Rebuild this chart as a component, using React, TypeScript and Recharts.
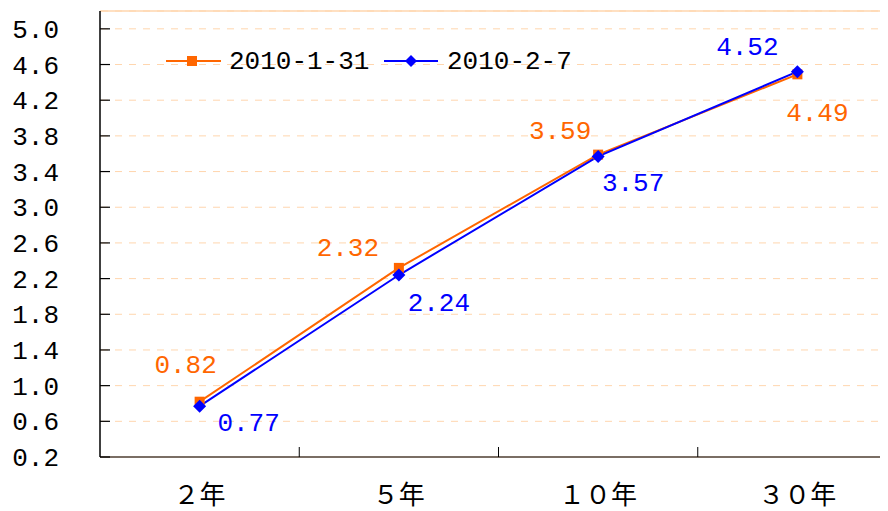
import React from 'react';
import { LineChart, Line, XAxis, YAxis, CartesianGrid, ReferenceLine } from 'recharts';

const categories = ['２年', '５年', '１０年', '３０年'];
const seriesNames = ['2010-1-31', '2010-2-7'];
const jan31 = [0.82, 2.32, 3.59, 4.49];
const feb7 = [0.77, 2.24, 3.57, 4.52];
const yTicks = [0.2, 0.6, 1.0, 1.4, 1.8, 2.2, 2.6, 3.0, 3.4, 3.8, 4.2, 4.6, 5.0];

// label placement (style): offsets of label centre from the point
const janLabelOffsets = [[-14, -36], [-51, -19], [-38, -23], [20, 40]];
const febLabelOffsets = [[49, 18], [40, 29], [35, 28], [-50, -24]];

const ORANGE = '#FF6600';
const BLUE = '#0000FF';
const GRID = '#FFD6AE';
const MONO = '"Liberation Mono", "DejaVu Sans Mono", monospace';
const CJK = '"Noto Sans CJK JP", "Noto Sans CJK SC", sans-serif';

const CHART_W = 900;
const CHART_H = 503;
const MARGIN = { top: 3, right: 11, bottom: 0, left: 0 };
const Y_W = 92;
const X_H = 54;
const PLOT_W = CHART_W - MARGIN.left - MARGIN.right - Y_W;
const HALF_BAND = PLOT_W / categories.length / 2;

const data = categories.map((c, i) => ({ cat: c, a: jan31[i], b: feb7[i] }));

const YTick = (props: any) => {
  const { x, y, payload } = props;
  return (
    <g>
      <line x1={x} x2={x + 10} y1={y} y2={y} stroke="#000" strokeWidth={1.2} />
      <text x={x - 41} y={y + 2} textAnchor="end" dominantBaseline="central" fontFamily={MONO} fontSize={26} fill="#000">
        {Number(payload.value).toFixed(1)}
      </text>
    </g>
  );
};

const XTick = (props: any) => {
  const { x, y, payload, index } = props;
  return (
    <g>
      {index > 0 && <line x1={x - HALF_BAND} x2={x - HALF_BAND} y1={y} y2={y - 10} stroke="#000" strokeWidth={1} />}
      <text x={x} y={y + 35} textAnchor="middle" dominantBaseline="central" fontFamily={CJK} fontSize={26} fill="#000">
        {payload.value}
      </text>
    </g>
  );
};

const SquareDot = (props: any) => {
  const { cx, cy } = props;
  if (cx == null || cy == null) return <g />;
  return <rect x={cx - 5} y={cy - 5} width={10} height={10} fill={ORANGE} />;
};

const DiamondDot = (props: any) => {
  const { cx, cy } = props;
  if (cx == null || cy == null) return <g />;
  const r = 6.5;
  return <polygon points={`${cx},${cy - r} ${cx + r},${cy} ${cx},${cy + r} ${cx - r},${cy}`} fill={BLUE} />;
};

const makeLabel = (offsets: number[][], color: string) => (props: any) => {
  const { x, y, value, index } = props;
  const [dx, dy] = offsets[index] || [0, 0];
  return (
    <text x={x + dx} y={y + dy} textAnchor="middle" dominantBaseline="central" fontFamily={MONO} fontSize={26} fill={color}>
      {Number(value).toFixed(2)}
    </text>
  );
};

const LegendBox = () => (
  <svg width={430} height={30} style={{ position: 'absolute', left: 152, top: 38 }}>
    <line x1={6} x2={61} y1={15} y2={15} stroke={ORANGE} strokeWidth={2} />
    <rect x={27} y={10} width={10} height={10} fill={ORANGE} />
    <text x={69} y={16} dominantBaseline="central" fontFamily={MONO} fontSize={26} fill="#000">{seriesNames[0]}</text>
    <line x1={224} x2={278} y1={15} y2={15} stroke={BLUE} strokeWidth={2} />
    <polygon points="251,9 257,15 251,21 245,15" fill={BLUE} />
    <text x={287} y={16} dominantBaseline="central" fontFamily={MONO} fontSize={26} fill="#000">{seriesNames[1]}</text>
  </svg>
);

export default function App() {
  return (
    <div style={{ width: 880, height: CHART_H, overflow: 'hidden', position: 'relative' }}>
      <LineChart width={CHART_W} height={CHART_H} data={data} margin={MARGIN}>
        <CartesianGrid vertical={false} stroke={GRID} strokeDasharray="7 7" strokeDashoffset={-1} />
        <ReferenceLine y={5.2} stroke={GRID} strokeWidth={1.5} ifOverflow="extendDomain" />
        <XAxis
          dataKey="cat"
          height={X_H}
          interval={0}
          padding={{ left: HALF_BAND, right: HALF_BAND }}
          tickLine={false}
          tickSize={0}
          tickMargin={0}
          axisLine={{ stroke: '#7A6E64', strokeWidth: 2 }}
          tick={<XTick />}
        />
        <YAxis
          width={Y_W}
          type="number"
          domain={[0.2, 5.2]}
          ticks={yTicks}
          interval={0}
          allowDataOverflow
          tickLine={false}
          tickSize={0}
          tickMargin={0}
          axisLine={{ stroke: '#000', strokeWidth: 1.5 }}
          tick={<YTick />}
        />
        <Line
          dataKey="a"
          name={seriesNames[0]}
          stroke={ORANGE}
          strokeWidth={2}
          dot={<SquareDot />}
          activeDot={false}
          label={makeLabel(janLabelOffsets, ORANGE)}
          isAnimationActive={false}
        />
        <Line
          dataKey="b"
          name={seriesNames[1]}
          stroke={BLUE}
          strokeWidth={2}
          dot={<DiamondDot />}
          activeDot={false}
          label={makeLabel(febLabelOffsets, BLUE)}
          isAnimationActive={false}
        />
      </LineChart>
      <LegendBox />
    </div>
  );
}
